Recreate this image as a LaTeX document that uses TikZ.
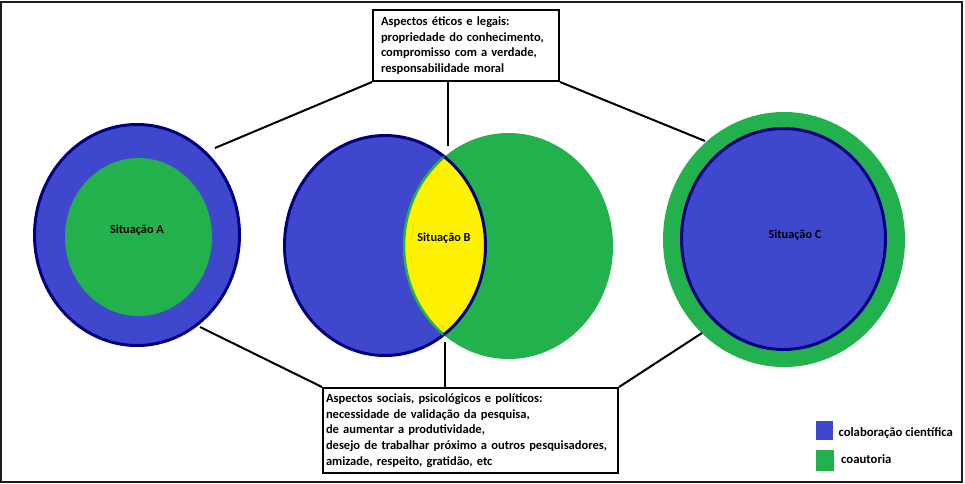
\documentclass[tikz,border=0pt]{standalone}
\usepackage{fontspec}
\setmainfont{Carlito}
\usetikzlibrary{shapes.geometric}
\definecolor{cblue}{HTML}{3F48CC}
\definecolor{cgreen}{HTML}{22B14C}
\definecolor{cnavy}{HTML}{000080}
\definecolor{cyellow}{HTML}{FFF200}
\definecolor{cframe}{HTML}{1E1E1E}
\tikzset{
  txt/.style={font=\fontsize{12.7pt}{15.65pt}\selectfont\bfseries, text=black},
  boxtxt/.style={font=\fontsize{12.5pt}{15.65pt}\selectfont\bfseries, text=black},
  infobox/.style={boxtxt, draw=black, line width=2pt, fill=white, align=left, anchor=north west, inner ysep=4pt},
  conn/.style={draw=black, line width=2pt},
  outerring/.style={ellipse, inner sep=0pt},
  navyline/.style={draw=cnavy, line width=3pt},
  lab/.style={font=\fontsize{12.3pt}{15pt}\selectfont\bfseries, text=black, anchor=base, inner sep=0pt},
  legsq/.style={anchor=north west, inner sep=0pt},
}
\begin{document}
\begin{tikzpicture}[x=1pt,y=-1pt]
\useasboundingbox (0,0) rectangle (965,483);
\fill[white] (0,0) rectangle (965,483);
\draw[cframe, line width=2pt] (1,1.7) rectangle (962,481.7);

% Situacao A
\node[outerring, fill=cblue, navyline, minimum width=205pt, minimum height=221pt] (A) at (137,235) {};
\node[outerring, fill=cgreen, minimum width=147pt, minimum height=158pt] (Ain) at (138.5,237) {};
\node[lab] (labA) at (137,233.5) {Situação A};

% Situacao C
\node[outerring, fill=cgreen, minimum width=242pt, minimum height=255pt] (C) at (784,239.5) {};
\node[outerring, fill=cblue, navyline, minimum width=204pt, minimum height=221pt] (Cin) at (783.5,239) {};
\node[lab] (labC) at (795,238.5) {Situação C};

% Situacao B
\def\blueB{(385,245.5) ellipse [x radius=100.5pt, y radius=110pt]}
\def\greenB{(508.5,246) ellipse [x radius=104.5pt, y radius=113pt]}
\path[fill=cblue, navyline] \blueB;
\path[fill=cgreen] \greenB;
\begin{scope}
  \clip \blueB;
  \path[fill=cyellow, draw=cgreen, line width=2.5pt] \greenB;
\end{scope}
\begin{scope}
  \clip \greenB;
  \path[navyline] \blueB;
\end{scope}
\node[lab] (labB) at (444,241) {Situação B};

% boxes
\node[infobox, inner xsep=8pt, text width=170pt, minimum height=71pt] (top) at (372,9)
  {Aspectos éticos e legais:\\propriedade do conhecimento,\\compromisso com a verdade,\\responsabilidade moral};
\node[infobox, inner xsep=3pt, text width=289pt, minimum height=85pt] (bot) at (322,387)
  {Aspectos sociais, psicológicos e políticos:\\necessidade de validação da pesquisa,\\de aumentar a produtividade,\\desejo de trabalhar próximo a outros pesquisadores,\\amizade, respeito, gratidão, etc};

% connector end points on the circles
\coordinate (aTop) at (215,148);
\coordinate (aBot) at (200,327);
\coordinate (cTop) at (705,141);
\coordinate (cBot) at (702,333);
\coordinate (bTop) at (448,146);
\coordinate (bBot) at (445,342);

\draw[conn] (aTop) -- (top.south west);
\draw[conn] (cTop) -- (top.south east);
\draw[conn] (top.south -| bTop) -- (bTop);
\draw[conn] (aBot) -- (bot.north west);
\draw[conn] (cBot) -- (bot.north east);
\draw[conn] (bBot) -- (bot.north -| bBot);

% legend
\node[legsq, fill=cblue, minimum width=16.5pt, minimum height=19pt] (legB) at (816,421) {};
\node[legsq, fill=cgreen, minimum width=17.5pt, minimum height=20.5pt] (legG) at (816,450) {};
\node[txt, anchor=base west, inner sep=0pt] (legBt) at (838.3,436.5) {colaboração científica};
\node[txt, anchor=base west, inner sep=0pt] (legGt) at (841,463.5) {coautoria};
\end{tikzpicture}
\end{document}
